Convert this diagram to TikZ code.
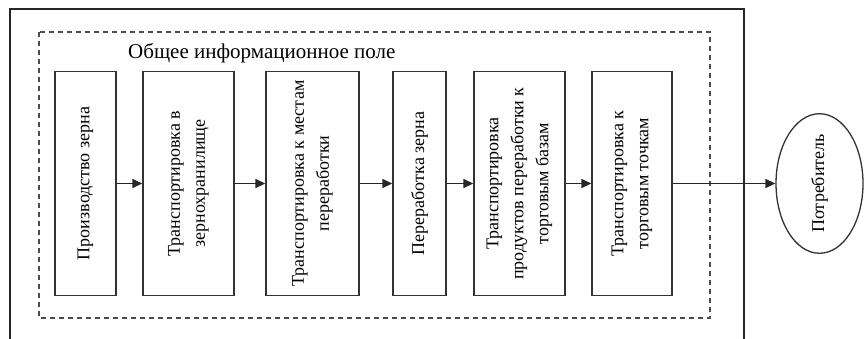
\documentclass[tikz,border=0pt]{standalone}
\usepackage{fontspec}
\setmainfont{Liberation Serif}
\usetikzlibrary{arrows.meta,shapes.geometric}

\tikzset{
  stagebox/.style={draw=black!80, line width=1.4pt, rectangle, rotate=90,
    minimum height=#1, minimum width=224pt, inner sep=0pt, align=center,
    font=\fontsize{18}{25}\selectfont},
  endpoint/.style={draw=black!80, line width=1.3pt, ellipse, rotate=90,
    minimum width=127pt, minimum height=87pt, inner sep=0pt,
    font=\fontsize{18}{25}\selectfont},
  flow/.style={draw=black!85, line width=1.5pt, -{Triangle[length=10pt,width=9pt]}},
  fieldframe/.style={draw=black!70, line width=1.4pt, dash pattern=on 5pt off 4pt},
  outerframe/.style={draw=black!85, line width=1.3pt}
}

\begin{document}
\begin{tikzpicture}[x=1pt,y=-1pt]
  \useasboundingbox (0,0) rectangle (864,338);

  % outer frame, open at the bottom
  \draw[outerframe] (10,345) -- (10,9) -- (744,9) -- (744,345);

  % shared information field
  \draw[fieldframe] (39,32) rectangle (710,318);
  \node[anchor=base west, inner sep=0pt, font=\fontsize{21}{24}\selectfont]
    (title) at (128,58) {Общее информационное поле};

  % supply chain stages
  \node[stagebox=61pt]  (b1) at (85.5,183.5)  {Производство зерна};
  \node[stagebox=91pt]  (b2) at (188.5,183.5) {Транспортировка в\\зернохранилище};
  \node[stagebox=93pt]  (b3) at (312.5,183.5) {Транспортировка к местам\\переработки};
  \node[stagebox=53pt]  (b4) at (419.5,183.5) {Переработка зерна};
  \node[stagebox=91pt]  (b5) at (519.5,183.5) {Транспортировка\\продуктов переработки к\\торговым базам};
  \node[stagebox=80pt]  (b6) at (632,183.5)   {Транспортировка к\\торговым точкам};

  % consumer
  \node[endpoint] (c) at (819.5,183.5) {Потребитель};

  % flow between stages
  \draw[flow] (b1.south) -- (b2.north);
  \draw[flow] (b2.south) -- (b3.north);
  \draw[flow] (b3.south) -- (b4.north);
  \draw[flow] (b4.south) -- (b5.north);
  \draw[flow] (b5.south) -- (b6.north);
  \draw[flow] (b6.south) -- (c.north);
\end{tikzpicture}
\end{document}
